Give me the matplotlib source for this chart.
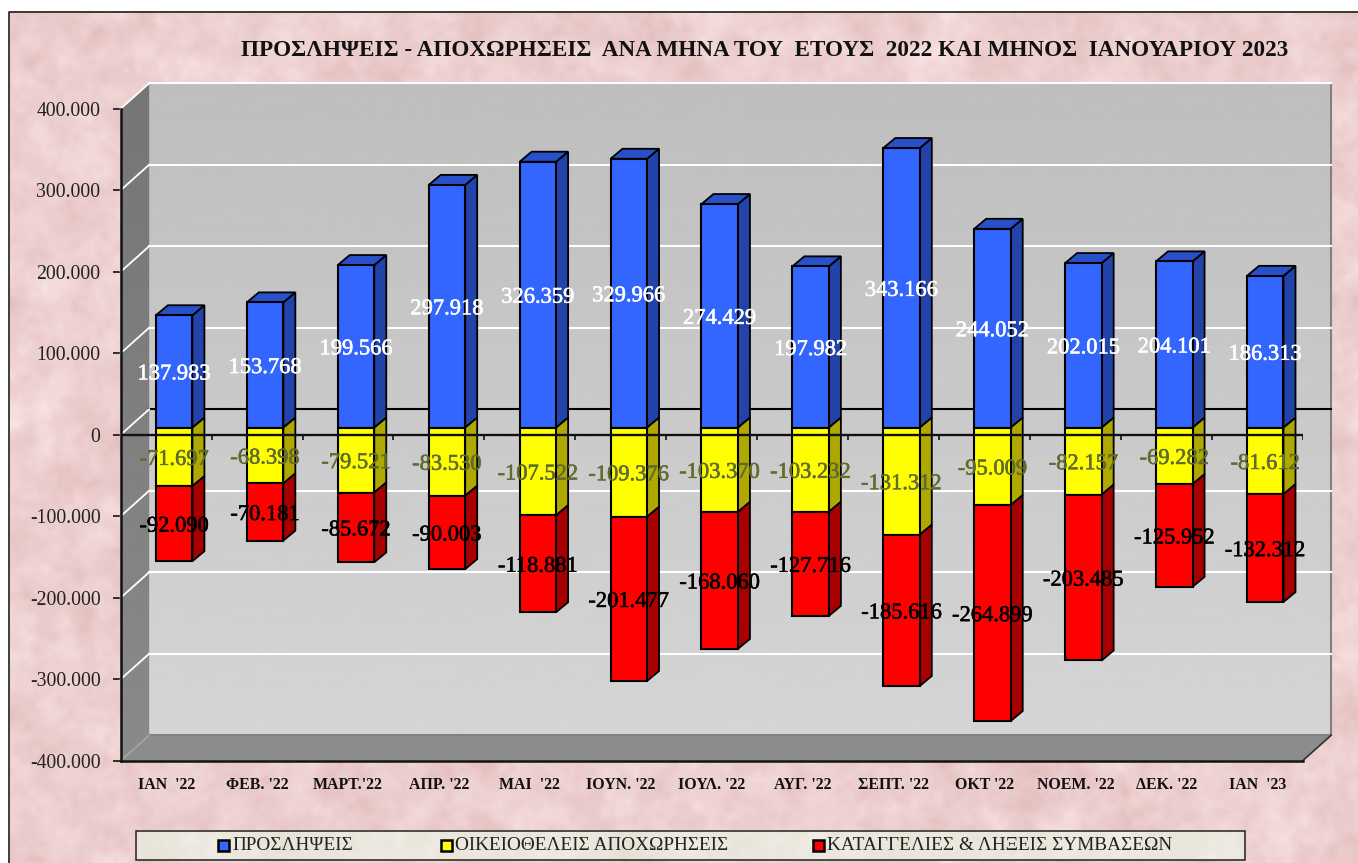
import numpy as np
import matplotlib
matplotlib.use('Agg')
import matplotlib.pyplot as plt
import matplotlib.patheffects as pe
from matplotlib.patches import Polygon, Rectangle

plt.rcParams['font.family'] = ['Liberation Serif', 'DejaVu Serif']

title = 'ΠΡΟΣΛΗΨΕΙΣ - ΑΠΟΧΩΡΗΣΕΙΣ  ΑΝΑ ΜΗΝΑ ΤΟΥ  ΕΤΟΥΣ  2022 ΚΑΙ ΜΗΝΟΣ  ΙΑΝΟΥΑΡΙΟΥ 2023'
months = ["ΙΑΝ  '22", "ΦΕΒ. '22", "ΜΑΡΤ.'22", "ΑΠΡ. '22", "ΜΑΙ  '22", "ΙΟΥΝ. '22", "ΙΟΥΛ. '22",
          "ΑΥΓ. '22", "ΣΕΠΤ. '22", "ΟΚΤ '22", "ΝΟΕΜ. '22", "ΔΕΚ. '22", "ΙΑΝ  '23"]
hires = [137983, 153768, 199566, 297918, 326359, 329966, 274429, 197982, 343166, 244052, 202015, 204101, 186313]
voluntary = [-71697, -68398, -79521, -83530, -107522, -109376, -103370, -103232, -131312, -95009, -82157, -69282, -81612]
layoffs = [-92090, -70181, -85672, -90003, -118881, -201477, -168060, -127716, -185616, -264899, -203485, -125952, -132312]
y_ticks = [400000, 300000, 200000, 100000, 0, -100000, -200000, -300000, -400000]
y_labels = ['400.000', '300.000', '200.000', '100.000', '0', '-100.000', '-200.000', '-300.000', '-400.000']
legend_names = ['ΠΡΟΣΛΗΨΕΙΣ', 'ΟΙΚΕΙΟΘΕΛΕΙΣ ΑΠΟΧΩΡΗΣΕΙΣ', 'ΚΑΤΑΓΓΕΛΙΕΣ & ΛΗΞΕΙΣ ΣΥΜΒΑΣΕΩΝ']

W, H = 1358, 863
rng = np.random.default_rng(7)


def mottled(h, w, base, amp):
    # blurred noise, only for the paper look of the background
    out = np.zeros((h, w))
    fy = np.fft.fftfreq(h)[:, None]
    fx = np.fft.fftfreq(w)[None, :]
    for sigma, weight in [(25, 0.5), (9, 1.0), (3, 0.6)]:
        n = np.fft.ifft2(np.fft.fft2(rng.normal(size=(h, w))) * np.exp(-2 * (np.pi * sigma) ** 2 * (fx ** 2 + fy ** 2))).real
        out += weight * n / n.std()
    out /= out.std()
    img = np.zeros((h, w, 3))
    for i in range(3):
        img[:, :, i] = base[i] + amp[i] * out
    return np.clip(img / 255, 0, 1)


fig = plt.figure(figsize=(W / 100, H / 100), dpi=100, facecolor='white')

# background layer, in pixels
bg = fig.add_axes([0, 0, 1, 1])
bg.set_xlim(0, W)
bg.set_ylim(H, 0)
bg.axis('off')
bg.imshow(mottled(H - 12, W - 9, (237, 207, 207), (3, 5, 5)), extent=(9, W, H, 12), aspect='auto', zorder=0)
bg.plot([8.5, 8.5, W], [H, 12, 12], color='#202020', lw=1.2, zorder=1)
bg.imshow(mottled(30, 1110, (236, 231, 221), (2, 2, 3)), extent=(135, 1245, 860, 830), aspect='auto', zorder=2)
bg.add_patch(Rectangle((135.5, 830.5), 1109, 29.5, fill=False, ec='#202020', lw=1.1, zorder=3))
bg.set_xlim(0, W)
bg.set_ylim(H, 0)
for sw_x, txt_x, col, name in zip([217.5, 440.5, 812.5], [232, 455, 827], ['#3366FF', '#FFFF00', '#FF0000'], legend_names):
    bg.add_patch(Rectangle((sw_x, 839.5), 11, 11, fc=col, ec='black', lw=1.8, zorder=4))
    bg.text(txt_x, 845, name, fontsize=13.9, color='#222222', va='center', ha='left', zorder=4)
bg.text(765, 50, title, fontsize=16.7, fontweight='bold', color='#111111', ha='center', va='center')

# chart layer: the front plane of the box is the axes rectangle
ax_l, ax_r, ax_t, ax_b = 120.7, 1302.7, 108.7, 760.7
ax = fig.add_axes([ax_l / W, 1 - ax_b / H, (ax_r - ax_l) / W, (ax_b - ax_t) / H])
ax.patch.set_visible(False)
xlim = (-0.5, 12.5)
ylim = (-400000, 400000)
px = 13 / (ax_r - ax_l)
py = 800000 / (ax_b - ax_t)
back_x, back_y = 28.5 * px, 25.5 * py
x0, x1 = xlim
y0, y1 = ylim

# walls
wall = np.linspace(0.745, 0.835, 256)[:, None]
ax.imshow(wall, extent=(x0 + back_x, x1 + back_x, y0 + back_y, y1 + back_y), aspect='auto', cmap='gray',
          vmin=0, vmax=1, origin='upper', zorder=1, clip_on=False)
side = np.linspace(0.46, 0.54, 256)[:, None]
left_poly = Polygon([(x0, y0), (x0 + back_x, y0 + back_y), (x0 + back_x, y1 + back_y), (x0, y1)], fc='none', ec='none',
                    transform=ax.transData, clip_on=False)
ax.add_patch(left_poly)
im = ax.imshow(side, extent=(x0, x0 + back_x, y0, y1 + back_y), aspect='auto', cmap='gray', vmin=0, vmax=1,
               origin='upper', zorder=1)
im.set_clip_box(fig.bbox)
im.set_clip_path(left_poly)
ax.add_patch(Polygon([(x0, y0), (x0 + back_x, y0 + back_y), (x1 + back_x, y0 + back_y), (x1, y0)], fc='#8C8C8C', ec='none',
                     zorder=1, clip_on=False))
ax.plot([x0 + back_x, x1 + back_x, x1 + back_x], [y0 + back_y, y0 + back_y, y1 + back_y], color='#808080', lw=1.5, zorder=2, clip_on=False)
ax.plot([x1, x1 + back_x], [y0, y0 + back_y], color='#303030', lw=1.2, zorder=2, clip_on=False)
ax.plot([x0, x0 + back_x], [y0, y0 + back_y], color='#A8A8A8', lw=1, zorder=2, clip_on=False)

# grid on the walls
for v in y_ticks[:-1]:
    col = 'black' if v == 0 else 'white'
    ax.plot([x0 + back_x, x1 + back_x], [v + back_y, v + back_y], color=col, lw=1.5, zorder=2, clip_on=False)
    ax.plot([x0, x0 + back_x], [v, v + back_y], color='white', lw=1.3, zorder=2, clip_on=False)

# bars
x = np.arange(len(months))
bar_w = 36.5 * px
shift_x, shift_y = 8 * px, 7 * py
dep_x, dep_y = 12 * px, 10 * py
hires = np.array(hires)
voluntary = np.array(voluntary)
layoffs = np.array(layoffs)
series = [
    (np.zeros(13), hires, '#3366FF', '#2244AA', '#2850C8'),
    (np.zeros(13), voluntary, '#FFFF00', '#AFA800', '#CCCC00'),
    (voluntary, layoffs, '#FF0000', '#A80000', '#CC0000'),
]
for bottom, vals, front, right, top in series:
    ax.bar(x + shift_x, vals, bar_w, bottom=bottom + shift_y, color=front, edgecolor='black', linewidth=1.5, zorder=4, clip_on=False)
    for i in range(13):
        l = x[i] + shift_x - bar_w / 2
        r = l + bar_w
        lo = bottom[i] + shift_y
        hi = lo + vals[i]
        ax.add_patch(Polygon([(r, lo), (r + dep_x, lo + dep_y), (r + dep_x, hi + dep_y), (r, hi)], fc=right, ec='black', lw=1.3,
                             zorder=3.5, clip_on=False))
        if vals[i] > 0:
            ax.add_patch(Polygon([(l, hi), (l + dep_x, hi + dep_y), (r + dep_x, hi + dep_y), (r, hi)], fc=top, ec='black', lw=1.3,
                                 zorder=3.5, clip_on=False))

# zero line of the front plane with its ticks
ax.plot([x0, x1], [0, 0], color='#111111', lw=1.7, zorder=5)
ax.vlines(np.arange(x0, x1 + 1), 0, -5 * py, color='#111111', lw=1.2, zorder=5)


def fmt(v):
    return f'{v:,}'.replace(',', '.')


def label(cx, cy, v, col):
    t = ax.text(cx, cy - 3.5 * py, fmt(v), color=col, fontsize=16.2, ha='center', va='center', zorder=6)
    t.set_path_effects([pe.withStroke(linewidth=0.4, foreground=col)])


# value labels
for i in range(13):
    cx = x[i] + shift_x
    label(cx, shift_y + hires[i] / 2, hires[i], 'white')
    label(cx, shift_y + voluntary[i] / 2, voluntary[i], '#5F6B2F')
    label(cx, shift_y + voluntary[i] + layoffs[i] / 2, layoffs[i], 'black')

ax.set_xlim(xlim)
ax.set_ylim(ylim)
ax.set_xticks(x)
ax.set_xticklabels(months, fontsize=11.4, fontweight='bold', color='#111111')
ax.set_yticks(y_ticks)
ax.set_yticklabels(y_labels, fontsize=14.2, color='#222222')
ax.tick_params(axis='x', length=0, pad=12)
ax.tick_params(axis='y', length=5.5, width=1.2, pad=9, color='#111111')
for name in ['top', 'right']:
    ax.spines[name].set_visible(False)
for name in ['left', 'bottom']:
    ax.spines[name].set_linewidth(1.8)
    ax.spines[name].set_color('#111111')
    ax.spines[name].set_zorder(2.5)

fig.savefig('out.png', dpi=100)
